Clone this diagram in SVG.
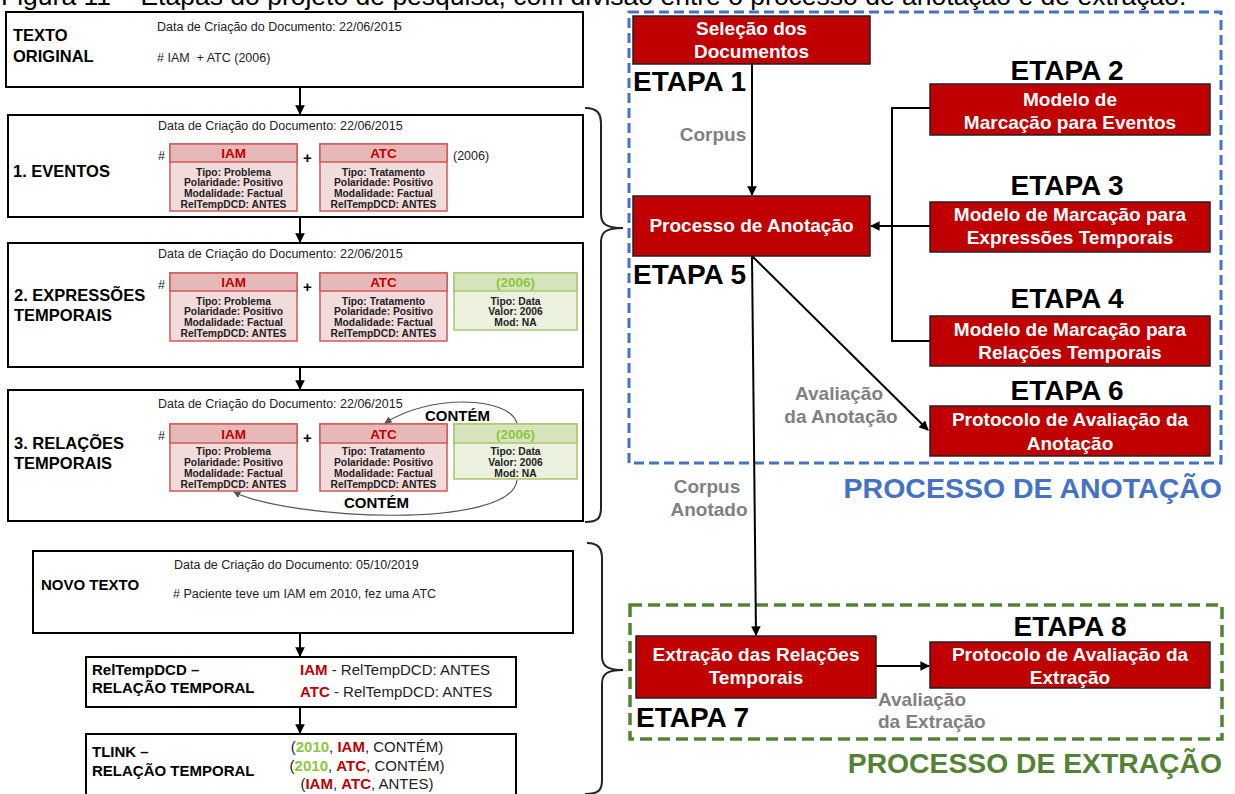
<svg xmlns="http://www.w3.org/2000/svg" width="1235" height="794" viewBox="0 0 1235 794">
  <style>
    text { font-family: "Liberation Sans", Arial, sans-serif; }
    .frame { fill: #fff; stroke: #000; stroke-width: 2; }
    .lbl { font-weight: bold; font-size: 16.5px; fill: #000; }
    .lbl2 { font-weight: bold; font-size: 15px; fill: #000; }
    .date { font-size: 12.5px; fill: #222; }
    .ev-head { fill: #E6B9B8; stroke: #D05A57; stroke-width: 1.5; }
    .ev-body { fill: #F2DCDB; stroke: #D05A57; stroke-width: 1.5; }
    .tx-head { fill: #D7E4BD; stroke: #A6C96A; stroke-width: 1.5; }
    .tx-body { fill: #EBF1DE; stroke: #A6C96A; stroke-width: 1.5; }
    .ev-title { font-weight: bold; font-size: 13.5px; fill: #C00000; text-anchor: middle; }
    .tx-title { font-weight: bold; font-size: 13.5px; fill: #8DC63F; text-anchor: middle; }
    .attr { font-weight: bold; font-size: 10.3px; fill: #222; text-anchor: middle; }
    .red { fill: #C00000; font-weight: bold; }
    .grn { fill: #8DC63F; font-weight: bold; }
    .step { fill: #C00000; stroke: #222; stroke-width: 1.5; }
    .step-t { font-weight: bold; font-size: 19px; fill: #fff; text-anchor: middle; }
    .etapa { font-weight: bold; font-size: 28px; fill: #000; }
    .gray { font-weight: bold; font-size: 19px; fill: #808080; }
    .wire { fill: none; stroke: #000; stroke-width: 2; }
    .thin { fill: none; stroke: #555; stroke-width: 1.2; }
    .brace { fill: none; stroke: #222; stroke-width: 2; }
  </style>
  <defs>
    <marker id="ah" viewBox="0 0 10 10" refX="9" refY="5" markerWidth="4.8" markerHeight="4.8" orient="auto" markerUnits="strokeWidth">
      <path d="M0,0 L10,5 L0,10 z" fill="#000"/>
    </marker>
    <marker id="ah-thin" viewBox="0 0 10 10" refX="9" refY="5" markerWidth="6" markerHeight="6" orient="auto" markerUnits="strokeWidth">
      <path d="M0,0 L10,5 L0,10 z" fill="#555"/>
    </marker>
  </defs>

  <rect width="1235" height="794" fill="#fff"/>

  <!-- caption line, clipped by the top edge -->
  <text x="1" y="5" font-size="26.5" fill="#000">Figura 11 – Etapas do projeto de pesquisa, com divisão entre o processo de anotação e de extração.</text>

  <!-- ===== left column: annotation example ===== -->
  <g id="texto-original">
    <rect class="frame" x="6" y="12" width="577" height="75"/>
    <text class="lbl" x="13" y="41">TEXTO</text>
    <text class="lbl" x="13" y="62">ORIGINAL</text>
    <text class="date" x="157" y="31">Data de Criação do Documento: 22/06/2015</text>
    <text class="date" x="157" y="62" xml:space="preserve"># IAM  + ATC (2006)</text>
  </g>

  <g id="eventos">
    <rect class="frame" x="8" y="115" width="575" height="102"/>
    <text class="date" x="158" y="130">Data de Criação do Documento: 22/06/2015</text>
    <text class="lbl" x="13" y="177">1. EVENTOS</text>
    <text class="date" x="158" y="160">#</text>
    <text class="lbl2" x="303" y="163" font-size="13">+</text>
    <text class="date" x="453" y="160">(2006)</text>
    <g transform="translate(170,144)">
      <rect class="ev-body" x="0" y="0" width="127" height="67"/>
      <rect class="ev-head" x="0" y="0" width="127" height="18"/>
      <text class="ev-title" x="63.5" y="14">IAM</text>
      <text class="attr" x="63.5" y="31.5">Tipo: Problema</text>
      <text class="attr" x="63.5" y="42.3">Polaridade: Positivo</text>
      <text class="attr" x="63.5" y="53.1">Modalidade: Factual</text>
      <text class="attr" x="63.5" y="63.9">RelTempDCD: ANTES</text>
    </g>
    <g transform="translate(320,144)">
      <rect class="ev-body" x="0" y="0" width="127" height="67"/>
      <rect class="ev-head" x="0" y="0" width="127" height="18"/>
      <text class="ev-title" x="63.5" y="14">ATC</text>
      <text class="attr" x="63.5" y="31.5">Tipo: Tratamento</text>
      <text class="attr" x="63.5" y="42.3">Polaridade: Positivo</text>
      <text class="attr" x="63.5" y="53.1">Modalidade: Factual</text>
      <text class="attr" x="63.5" y="63.9">RelTempDCD: ANTES</text>
    </g>
  </g>

  <g id="expressoes">
    <rect class="frame" x="8" y="243" width="575" height="124"/>
    <text class="date" x="158" y="258">Data de Criação do Documento: 22/06/2015</text>
    <text class="lbl" x="14" y="301">2. EXPRESSÕES</text>
    <text class="lbl" x="14" y="321">TEMPORAIS</text>
    <text class="date" x="158" y="289">#</text>
    <text class="lbl2" x="303" y="292" font-size="13">+</text>
    <g transform="translate(170,273)">
      <rect class="ev-body" x="0" y="0" width="127" height="68"/>
      <rect class="ev-head" x="0" y="0" width="127" height="18"/>
      <text class="ev-title" x="63.5" y="14">IAM</text>
      <text class="attr" x="63.5" y="31.5">Tipo: Problema</text>
      <text class="attr" x="63.5" y="42.3">Polaridade: Positivo</text>
      <text class="attr" x="63.5" y="53.1">Modalidade: Factual</text>
      <text class="attr" x="63.5" y="63.9">RelTempDCD: ANTES</text>
    </g>
    <g transform="translate(320,273)">
      <rect class="ev-body" x="0" y="0" width="127" height="68"/>
      <rect class="ev-head" x="0" y="0" width="127" height="18"/>
      <text class="ev-title" x="63.5" y="14">ATC</text>
      <text class="attr" x="63.5" y="31.5">Tipo: Tratamento</text>
      <text class="attr" x="63.5" y="42.3">Polaridade: Positivo</text>
      <text class="attr" x="63.5" y="53.1">Modalidade: Factual</text>
      <text class="attr" x="63.5" y="63.9">RelTempDCD: ANTES</text>
    </g>
    <g transform="translate(454,273)">
      <rect class="tx-body" x="0" y="0" width="123" height="57"/>
      <rect class="tx-head" x="0" y="0" width="123" height="18"/>
      <text class="tx-title" x="61.5" y="14">(2006)</text>
      <text class="attr" x="61.5" y="31.5">Tipo: Data</text>
      <text class="attr" x="61.5" y="42.3">Valor: 2006</text>
      <text class="attr" x="61.5" y="53.1">Mod: NA</text>
    </g>
  </g>

  <g id="relacoes">
    <rect class="frame" x="8" y="390" width="575" height="131"/>
    <text class="date" x="158" y="408">Data de Criação do Documento: 22/06/2015</text>
    <text class="lbl" x="14" y="449">3. RELAÇÕES</text>
    <text class="lbl" x="14" y="469">TEMPORAIS</text>
    <text class="date" x="158" y="440">#</text>
    <text class="lbl2" x="303" y="443" font-size="13">+</text>
    <g transform="translate(170,424)">
      <rect class="ev-body" x="0" y="0" width="127" height="67"/>
      <rect class="ev-head" x="0" y="0" width="127" height="19"/>
      <text class="ev-title" x="63.5" y="14.5">IAM</text>
      <text class="attr" x="63.5" y="30.5">Tipo: Problema</text>
      <text class="attr" x="63.5" y="41.5">Polaridade: Positivo</text>
      <text class="attr" x="63.5" y="52.5">Modalidade: Factual</text>
      <text class="attr" x="63.5" y="63.5">RelTempDCD: ANTES</text>
    </g>
    <g transform="translate(320,424)">
      <rect class="ev-body" x="0" y="0" width="127" height="67"/>
      <rect class="ev-head" x="0" y="0" width="127" height="19"/>
      <text class="ev-title" x="63.5" y="14.5">ATC</text>
      <text class="attr" x="63.5" y="30.5">Tipo: Tratamento</text>
      <text class="attr" x="63.5" y="41.5">Polaridade: Positivo</text>
      <text class="attr" x="63.5" y="52.5">Modalidade: Factual</text>
      <text class="attr" x="63.5" y="63.5">RelTempDCD: ANTES</text>
    </g>
    <g transform="translate(454,424)">
      <rect class="tx-body" x="0" y="0" width="123" height="55"/>
      <rect class="tx-head" x="0" y="0" width="123" height="19"/>
      <text class="tx-title" x="61.5" y="14.5">(2006)</text>
      <text class="attr" x="61.5" y="30.5">Tipo: Data</text>
      <text class="attr" x="61.5" y="41.5">Valor: 2006</text>
      <text class="attr" x="61.5" y="52.5">Mod: NA</text>
    </g>
    <path class="thin" d="M517,423 C508,396 430,394 385,423" marker-end="url(#ah-thin)"/>
    <path class="thin" d="M517,480 C512,530 290,520 234,492" marker-end="url(#ah-thin)"/>
    <text class="lbl2" x="425" y="421" font-size="14">CONTÉM</text>
    <text class="lbl2" x="344" y="508" font-size="14">CONTÉM</text>
  </g>

  <g id="novo-texto">
    <rect class="frame" x="33" y="551" width="540" height="82"/>
    <text class="lbl2" x="41" y="590">NOVO TEXTO</text>
    <text class="date" x="174" y="569" font-size="12">Data de Criação do Documento: 05/10/2019</text>
    <text class="date" x="173" y="598" font-size="11.5"># Paciente teve um IAM em 2010, fez uma ATC</text>
  </g>

  <g id="reltempdcd">
    <rect class="frame" x="86" y="657" width="430" height="50"/>
    <text class="lbl2" x="92" y="675">RelTempDCD –</text>
    <text class="lbl2" x="92" y="693">RELAÇÃO TEMPORAL</text>
    <text x="300" y="675" font-size="15" fill="#222"><tspan class="red">IAM</tspan> - RelTempDCD: ANTES</text>
    <text x="300" y="697" font-size="15" fill="#222"><tspan class="red">ATC</tspan> - RelTempDCD: ANTES</text>
  </g>

  <g id="tlink">
    <rect class="frame" x="86" y="734" width="430" height="70"/>
    <text class="lbl2" x="92" y="757">TLINK –</text>
    <text class="lbl2" x="92" y="776">RELAÇÃO TEMPORAL</text>
    <text x="367" y="752" font-size="15" fill="#222" text-anchor="middle">(<tspan class="grn">2010</tspan>, <tspan class="red">IAM</tspan>, CONTÉM)</text>
    <text x="367" y="771" font-size="15" fill="#222" text-anchor="middle">(<tspan class="grn">2010</tspan>, <tspan class="red">ATC</tspan>, CONTÉM)</text>
    <text x="367" y="789" font-size="15" fill="#222" text-anchor="middle">(<tspan class="red">IAM</tspan>, <tspan class="red">ATC</tspan>, ANTES)</text>
  </g>

  <!-- braces grouping the example blocks -->
  <g id="braces">
    <path class="brace" d="M585,108 C598,108 601,114 601,124 L601,214 C601,224 606,228 623,228 C606,228 601,232 601,242 L601,508 C601,518 598,522 585,522"/>
    <path class="brace" d="M587,543 C599,543 602,549 602,559 L602,656 C602,666 607,670 623,670 C607,670 602,674 602,684 L602,780 C602,790 599,794 585,794"/>
  </g>

  <!-- ===== right column: pipeline ===== -->
  <g id="processo-anotacao-area">
    <rect x="629" y="12" width="592" height="451" fill="none" stroke="#4472C4" stroke-width="3" stroke-dasharray="10 5"/>
    <text x="1222" y="498" font-size="28.5" font-weight="bold" fill="#4472C4" text-anchor="end">PROCESSO DE ANOTAÇÃO</text>
  </g>
  <g id="processo-extracao-area">
    <rect x="630" y="605" width="592" height="134" fill="none" stroke="#548235" stroke-width="3.5" stroke-dasharray="12 6"/>
    <text x="1222" y="773" font-size="28.3" font-weight="bold" fill="#548235" text-anchor="end">PROCESSO DE EXTRAÇÃO</text>
  </g>

  <g id="connectors">
    <line class="wire" x1="300" y1="87" x2="300" y2="114" marker-end="url(#ah)"/>
    <line class="wire" x1="300" y1="217" x2="300" y2="242" marker-end="url(#ah)"/>
    <line class="wire" x1="300" y1="367" x2="300" y2="389" marker-end="url(#ah)"/>
    <line class="wire" x1="300" y1="633" x2="300" y2="656" marker-end="url(#ah)"/>
    <line class="wire" x1="300" y1="707" x2="300" y2="733" marker-end="url(#ah)"/>

    <line class="wire" x1="752" y1="64" x2="752" y2="195" marker-end="url(#ah)"/>
    <polyline class="wire" points="930,108 892,108 892,341 930,341"/>
    <line class="wire" x1="930" y1="226" x2="871" y2="226" marker-end="url(#ah)"/>
    <line class="wire" x1="752" y1="256" x2="928" y2="430" marker-end="url(#ah)"/>
    <line class="wire" x1="752" y1="256" x2="756" y2="635" marker-end="url(#ah)"/>
    <line class="wire" x1="876" y1="666" x2="929" y2="666" marker-end="url(#ah)"/>

    <text class="gray" x="713" y="141" text-anchor="middle">Corpus</text>
    <text class="gray" x="839" y="400" text-anchor="middle">Avaliação</text>
    <text class="gray" x="841" y="423" text-anchor="middle">da Anotação</text>
    <text class="gray" x="707" y="493" text-anchor="middle">Corpus</text>
    <text class="gray" x="709" y="516" text-anchor="middle">Anotado</text>
    <text class="gray" x="878" y="706">Avaliação</text>
    <text class="gray" x="878" y="728">da Extração</text>
  </g>

  <g id="etapa1">
    <rect class="step" x="633" y="16" width="237" height="48"/>
    <text class="step-t" x="751.5" y="35">Seleção dos</text>
    <text class="step-t" x="751.5" y="58">Documentos</text>
    <text class="etapa" x="633" y="91">ETAPA 1</text>
  </g>
  <g id="etapa2">
    <text class="etapa" x="1067" y="80" text-anchor="middle">ETAPA 2</text>
    <rect class="step" x="930" y="84" width="280" height="51"/>
    <text class="step-t" x="1070" y="106">Modelo de</text>
    <text class="step-t" x="1070" y="129">Marcação para Eventos</text>
  </g>
  <g id="etapa3">
    <text class="etapa" x="1067" y="195" text-anchor="middle">ETAPA 3</text>
    <rect class="step" x="930" y="202" width="280" height="50"/>
    <text class="step-t" x="1070" y="221">Modelo de Marcação para</text>
    <text class="step-t" x="1070" y="244">Expressões Temporais</text>
  </g>
  <g id="etapa4">
    <text class="etapa" x="1067" y="308" text-anchor="middle">ETAPA 4</text>
    <rect class="step" x="930" y="316" width="280" height="50"/>
    <text class="step-t" x="1070" y="336">Modelo de Marcação para</text>
    <text class="step-t" x="1070" y="359">Relações Temporais</text>
  </g>
  <g id="etapa5">
    <rect class="step" x="633" y="196" width="237" height="60"/>
    <text class="step-t" x="751.5" y="232">Processo de Anotação</text>
    <text class="etapa" x="633" y="284">ETAPA 5</text>
  </g>
  <g id="etapa6">
    <text class="etapa" x="1067" y="400" text-anchor="middle">ETAPA 6</text>
    <rect class="step" x="930" y="406" width="280" height="50"/>
    <text class="step-t" x="1070" y="426">Protocolo de Avaliação da</text>
    <text class="step-t" x="1070" y="450">Anotação</text>
  </g>
  <g id="etapa7">
    <rect class="step" x="636" y="636" width="240" height="62"/>
    <text class="step-t" x="756" y="661">Extração das Relações</text>
    <text class="step-t" x="756" y="684">Temporais</text>
    <text class="etapa" x="636" y="727">ETAPA 7</text>
  </g>
  <g id="etapa8">
    <text class="etapa" x="1070" y="636" text-anchor="middle">ETAPA 8</text>
    <rect class="step" x="930" y="642" width="280" height="46"/>
    <text class="step-t" x="1070" y="661">Protocolo de Avaliação da</text>
    <text class="step-t" x="1070" y="684">Extração</text>
  </g>
</svg>
